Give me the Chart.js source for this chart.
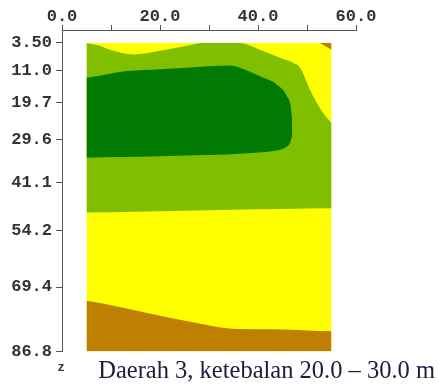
<!DOCTYPE html>
<html>
<head>
<meta charset="utf-8">
<title>Daerah 3</title>
<script src="https://cdn.jsdelivr.net/npm/chart.js@4/dist/chart.umd.min.js"></script>
<style>
  html, body { margin: 0; padding: 0; background: #ffffff; }
  #wrap { width: 439px; height: 387px; }
</style>
</head>
<body>
<div id="wrap"><canvas id="section" width="439" height="387"></canvas></div>
<script>
// Sumbu jarak (atas) dan kedalaman (kiri)
const distanceTicks = [0, 10, 20, 30, 40, 50, 60];
const distanceTickLabels = ['0.0', '', '20.0', '', '40.0', '', '60.0'];
const depthTicks = [3.5, 11.0, 19.7, 29.6, 41.1, 54.2, 69.4, 86.8];
const depthTickLabels = ['3.50', '11.0', '19.7', '29.6', '41.1', '54.2', '69.4', '86.8'];

// Batas penampang (jarak, kedalaman)
const sectionTop = [[5, 3.5], [55, 3.5]];
const sectionBottom = 86.8;

// Batas kuning / hijau muda bagian atas
const lightGreenTop = [[5, 3.5], [7.5, 4.2], [10, 5.4], [14.5, 6.6], [20, 5.6], [26.8, 3.9], [28.5, 3.5],
  [36.3, 3.5], [40.4, 5.3], [44.5, 7.5], [47.2, 8.9], [48.6, 10.2], [50.6, 16.1], [53.3, 22.4], [55, 25.1]];
// Batas hijau muda / kuning bagian bawah
const lightGreenBottom = [[5, 49.3], [15, 49.1], [25, 48.8], [35, 48.5], [45, 48.3], [55, 48.1]];

// Inti hijau tua
const darkGreenTop = [[5, 12.9], [9, 12.0], [13.2, 11.1], [20, 10.6], [25.4, 10.2], [34.3, 9.6], [37.5, 10.8],
  [40.4, 12.5], [43.8, 14.7], [45.9, 17.9], [46.9, 23.3], [47, 26.5]];
const darkGreenBottom = [[5, 34.5], [12, 34.3], [20, 34.1], [27, 33.8], [33.6, 33.6], [39, 33.2],
  [43.1, 32.7], [45.5, 31.8], [46.5, 30.6], [47, 28.5]];

// Lapisan coklat di dasar dan sudut kanan atas
const brownBottomTop = [[5, 73.1], [8, 73.8], [11, 74.6], [16, 76.0], [21.2, 77.5], [27, 79.0], [34.2, 80.6],
  [40, 80.8], [47.2, 80.9], [50, 81.1], [55, 81.3]];
const brownCorner = [[52.6, 3.5], [55, 5.3]];

const colors = {
  yellow: '#ffff00',
  lightGreen: '#80bf00',
  darkGreen: '#007a00',
  brown: '#bf7f00'
};

const toPoints = arr => arr.map(p => ({ x: p[0], y: p[1] }));

function area(data, color, fill, order) {
  return {
    data: toPoints(data),
    backgroundColor: color,
    borderWidth: 0,
    pointRadius: 0,
    cubicInterpolationMode: 'monotone',
    fill: fill,
    order: order
  };
}

const datasets = [
  area(sectionTop, colors.yellow, { value: sectionBottom }, 10),
  area(lightGreenTop, colors.lightGreen, '+1', 9),
  area(lightGreenBottom, 'transparent', false, 8),
  area(darkGreenTop, colors.darkGreen, '+1', 7),
  area(darkGreenBottom, 'transparent', false, 6),
  area(brownBottomTop, colors.brown, { value: sectionBottom }, 5),
  area(brownCorner, colors.brown, { value: 3.5 }, 4)
];

const tickFont = { family: '"Liberation Mono", monospace', size: 17, weight: 'bold' };

// huruf "z" di ujung bawah sumbu kedalaman
const depthMark = {
  id: 'depthMark',
  afterDraw(chart) {
    const s = chart.scales.y;
    const ctx = chart.ctx;
    ctx.save();
    ctx.font = 'bold 12px "Liberation Mono", monospace';
    ctx.fillStyle = '#333333';
    ctx.textAlign = 'center';
    ctx.textBaseline = 'middle';
    ctx.fillText('z', s.right - 1, s.bottom + 16);
    ctx.restore();
  }
};

new Chart(document.getElementById('section'), {
  type: 'line',
  data: { datasets: datasets },
  plugins: [depthMark],
  options: {
    responsive: false,
    animation: false,
    layout: { padding: { right: 4 } },
    plugins: {
      legend: { display: false },
      tooltip: { enabled: false },
      title: {
        display: true,
        text: 'Daerah 3, ketebalan 20.0 \u2013 30.0 m',
        position: 'bottom',
        align: 'end',
        color: '#1c1c40',
        font: { family: '"Liberation Serif", serif', size: 24.5, weight: 'normal', lineHeight: 1 },
        padding: { top: 8, bottom: 3 }
      }
    },
    scales: {
      x: {
        type: 'linear',
        position: 'top',
        min: 0,
        max: 60,
        afterBuildTicks: s => { s.ticks = distanceTicks.map(v => ({ value: v })); },
        afterFit: s => { s.height = 30; },
        border: { display: true, color: '#555555', width: 1 },
        grid: { drawOnChartArea: false, drawTicks: true, tickLength: 5, color: '#555555' },
        ticks: {
          padding: -2,
          maxRotation: 0,
          autoSkip: false,
          color: '#333333',
          font: tickFont,
          callback: (v, i) => distanceTickLabels[i]
        }
      },
      y: {
        type: 'linear',
        position: 'left',
        reverse: true,
        min: 0,
        max: sectionBottom,
        afterBuildTicks: s => { s.ticks = depthTicks.map(v => ({ value: v })); },
        afterFit: s => { s.width = 62; },
        border: { display: true, color: '#555555', width: 1 },
        grid: { drawOnChartArea: false, drawTicks: true, tickLength: 6, color: '#555555' },
        ticks: {
          padding: 4,
          autoSkip: false,
          color: '#333333',
          font: tickFont,
          callback: (v, i) => depthTickLabels[i]
        }
      },
      pad: {
        type: 'linear',
        position: 'right',
        display: true,
        afterFit: s => { s.width = 79; },
        border: { display: false },
        grid: { display: false },
        ticks: { display: false }
      }
    }
  }
});
</script>
</body>
</html>
